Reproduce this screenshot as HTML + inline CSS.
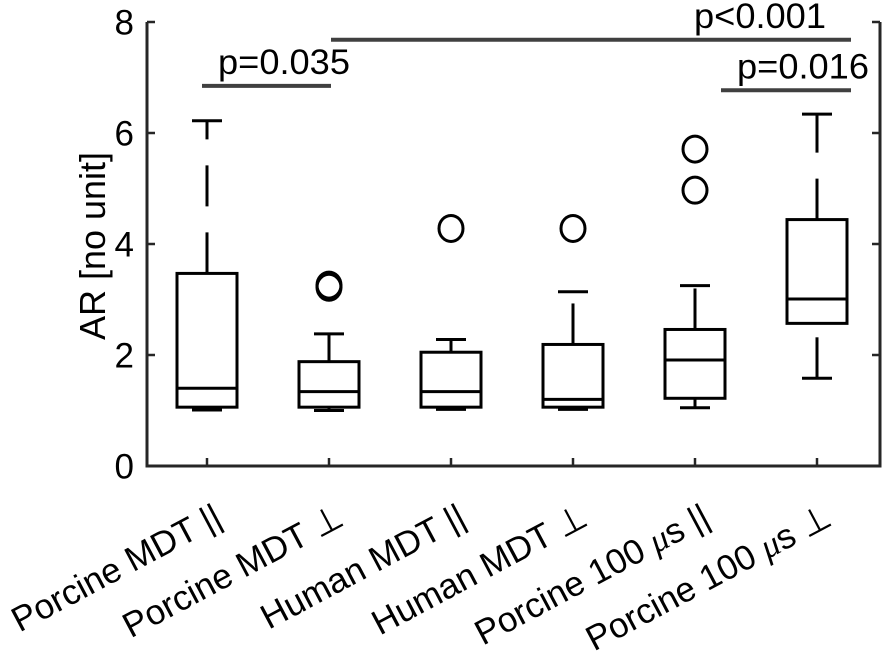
<!DOCTYPE html>
<html><head><meta charset="utf-8"><style>
html,body{margin:0;padding:0;background:#fff}
svg{display:block}
text{font-family:"Liberation Sans",sans-serif;fill:#000}
</style></head><body>
<svg id="chart" width="883" height="663" viewBox="0 0 883 663" xmlns="http://www.w3.org/2000/svg">
<g id="axes"></g>
<g id="boxes"></g>
<g id="sig"></g>
</svg>
<script>
const categories = ["Porcine MDT ||","Porcine MDT \u22A5","Human MDT ||","Human MDT \u22A5","Porcine 100 |\u03BC|s ||","Porcine 100 |\u03BC|s \u22A5"];
const lowerWhisker = [1.01,1.00,1.02,1.02,1.05,1.58];
const q1 = [1.06,1.06,1.06,1.06,1.22,2.57];
const median = [1.40,1.34,1.34,1.20,1.91,3.01];
const q3 = [3.47,1.88,2.05,2.19,2.46,4.44];
const upperWhisker = [6.22,2.38,2.28,3.14,3.25,6.34];
const outliers = [[],[3.26,3.22],[4.28],[4.28],[5.71,4.97],[]];
const yTicks = [0,2,4,6,8];
const sigFrom = [0,1,4];
const sigTo = [1,5,5];
const sigY = [6.85,7.68,6.77];
const sigLabels = ["p=0.035","p<0.001","p=0.016"];

const NS="http://www.w3.org/2000/svg";
const L=147,R=880,T=22,B=466;
const yS=v=>B-(v/8)*(B-T);
const xS=i=>207+i*122;
function mk(tag,attrs,parent){const e=document.createElementNS(NS,tag);for(const k in attrs)e.setAttribute(k,attrs[k]);parent.appendChild(e);return e;}
const axes=document.getElementById('axes'),boxes=document.getElementById('boxes'),sig=document.getElementById('sig');

let frame=mk('path',{d:`M${L},${T}V${B}H${R}V${T}`,fill:'none',stroke:'#262626','stroke-width':3},axes);


yTicks.forEach(v=>{
  const y=yS(v);
  let t=mk('path',{d:`M${L},${y}h8M${R},${y}h-8`,stroke:'#262626','stroke-width':2.5},axes);
  
  
  let lb=mk('text',{x:134,y:y+12.5,'text-anchor':'end','font-size':35},axes);
  lb.textContent=v;
  
  
});
let yl=mk('text',{x:0,y:0,'text-anchor':'middle','font-size':36,transform:`translate(105,246) rotate(-90)`},axes);
yl.textContent="AR [no unit]";


categories.forEach((c,i)=>{
  const x=xS(i);
  let t=mk('path',{d:`M${x},${B}v-8`,stroke:'#262626','stroke-width':2.5},axes);
  
  
  let lb=mk('text',{x:0,y:0,'text-anchor':'end','font-size':35,transform:`translate(${x+17},524) rotate(-28)`},axes);
  const parts=c.split('|\u03BC|');
  if(parts.length===2){
    lb.appendChild(document.createTextNode(parts[0]));
    const ts=mk('tspan',{'font-style':'italic','font-family':'"Liberation Serif",serif'},lb);
    ts.textContent='\u03BC';
    lb.appendChild(document.createTextNode(parts[1]));
  } else lb.textContent=c;
  
  
});

categories.forEach((c,i)=>{
  const x=xS(i),hw=30,cw=15;
  const g=mk('g',{},boxes);
  
  
  const st={stroke:'#000','stroke-width':3,fill:'none'};
  mk('rect',Object.assign({x:x-hw,y:yS(q3[i]),width:2*hw,height:yS(q1[i])-yS(q3[i])},st),g);
  mk('line',Object.assign({x1:x-hw,x2:x+hw,y1:yS(median[i]),y2:yS(median[i])},st),g);
  mk('line',Object.assign({x1:x,x2:x,y1:yS(q3[i]),y2:yS(upperWhisker[i]),'stroke-dasharray':'41 26'},st),g);
  mk('line',Object.assign({x1:x,x2:x,y1:yS(lowerWhisker[i]),y2:yS(q1[i]),'stroke-dasharray':'41 26'},st),g);
  mk('line',Object.assign({x1:x-cw,x2:x+cw,y1:yS(upperWhisker[i]),y2:yS(upperWhisker[i])},st),g);
  mk('line',Object.assign({x1:x-cw,x2:x+cw,y1:yS(lowerWhisker[i]),y2:yS(lowerWhisker[i])},st),g);
  outliers[i].forEach(o=>{
    let e=mk('ellipse',Object.assign({cx:x,cy:yS(o),rx:12,ry:13},st),g);
    
    
  });
});

const textStart=[218,694,737];
sigFrom.forEach((a,k)=>{
  const y=yS(sigY[k]);
  const xa = k===0?xS(a)-5:(k===1?xS(a)+2:xS(a)+26);
  const xb = k===0?xS(sigTo[k])+2:xS(sigTo[k])+34;
  let l=mk('line',{x1:xa,x2:xb,y1:y,y2:y,stroke:'#404040','stroke-width':4},sig);
  
  
  let t=mk('text',{x:textStart[k],y:y-12,'font-size':35,textLength:132,lengthAdjust:'spacingAndGlyphs'},sig);
  t.textContent=sigLabels[k];
  
  
});
</script>
</body></html>
